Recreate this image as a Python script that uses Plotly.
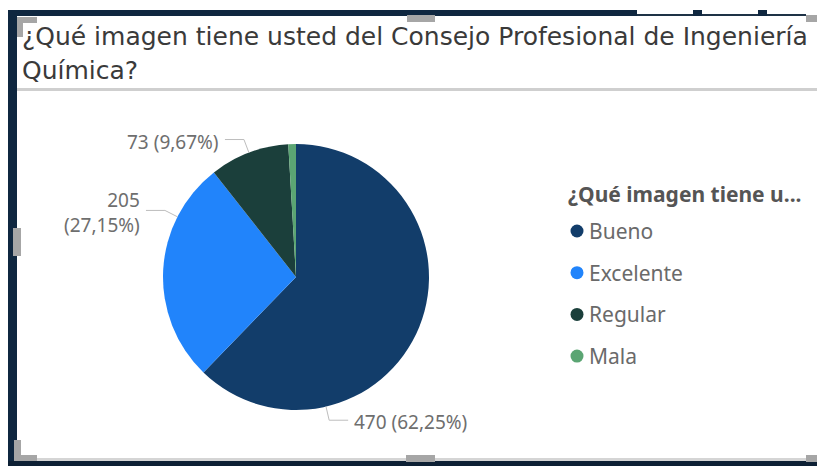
import math
import plotly.graph_objects as go

# ---------------- data ----------------
categories = ["Bueno", "Excelente", "Regular", "Mala"]
values = [470, 205, 73, 7]
colors = ["#123D6A", "#2184FB", "#1B3F3B", "#5BA573"]

title_lines = ["¿Qué imagen tiene usted del Consejo Profesional de Ingeniería", "Química?"]
legend_title = "¿Qué imagen tiene u..."

# ---------------- style / layout ----------------
W, H = 817, 466
pie_px_x = (163, 429)
pie_px_y = (144, 410)
label_frac = [0.745, 0.745, 0.5, None]      # where leader line touches each slice
label_wrap = [False, True, False, False]
LABEL_FONT = "Noto Sans"
TITLE_FONT = "DejaVu Sans"
LEGEND_FONT = "Noto Sans"


def px(x):
    return x / W


def py(y):
    return 1 - y / H


fig = go.Figure()
fig.add_trace(go.Pie(
    labels=categories, values=values, sort=False, direction="clockwise", rotation=0,
    marker=dict(colors=colors, line=dict(width=0)),
    textinfo="none", hoverinfo="label+value+percent", showlegend=False,
    domain=dict(x=[px(pie_px_x[0]), px(pie_px_x[1])], y=[py(pie_px_y[1]), py(pie_px_y[0])]),
))

shapes = []
annotations = []

# ---------- slice labels with leader lines (computed from values) ----------
cx = (pie_px_x[0] + pie_px_x[1]) / 2
cy = (pie_px_y[0] + pie_px_y[1]) / 2
r = (pie_px_x[1] - pie_px_x[0]) / 2
total = sum(values)
cum = 0.0
for cat, v, frac, wrap in zip(categories, values, label_frac, label_wrap):
    start = cum / total * 360
    span = v / total * 360
    cum += v
    if frac is None:
        continue
    a = math.radians(start + frac * span)
    ux, uy = math.sin(a), -math.cos(a)
    P = (cx + r * ux, cy + r * uy)
    E = (P[0] + 14 * ux, P[1] + 14 * uy)
    side = 1 if ux > 0 else -1
    Hh = (E[0] + 19 * side, E[1])
    path = "M {} {} L {} {} L {} {}".format(px(P[0]), py(P[1]), px(E[0]), py(E[1]), px(Hh[0]), py(Hh[1]))
    shapes.append(dict(type="path", xref="paper", yref="paper", path=path,
                       line=dict(color="#BDBDBD", width=1)))
    pct = "{:.2f}".format(100 * v / total).replace(".", ",") + "%"
    txt = f"{v}<br>({pct})" if wrap else f"{v} ({pct})"
    annotations.append(dict(
        xref="paper", yref="paper", x=px(Hh[0] + 4 * side), y=py(Hh[1] + 2),
        xanchor="left" if side > 0 else "right", yanchor="middle",
        align="left" if side > 0 else "right", text=txt, showarrow=False,
        font=dict(family=LABEL_FONT, size=19, color="#6E6E6E"),
    ))

# ---------- legend (manual, Power BI style) ----------
leg_cx = 577
leg_y0 = 231
leg_step = 41.7
annotations.append(dict(xref="paper", yref="paper", x=px(566), y=py(194), xanchor="left", yanchor="middle",
                        text=f"<b>{legend_title}</b>", showarrow=False,
                        font=dict(family=LEGEND_FONT, size=21, color="#555555")))
for i, (cat, col) in enumerate(zip(categories, colors)):
    yy = leg_y0 + i * leg_step
    shapes.append(dict(type="circle", xref="paper", yref="paper",
                       x0=px(leg_cx - 6.5), x1=px(leg_cx + 6.5), y0=py(yy + 6.5), y1=py(yy - 6.5),
                       fillcolor=col, line=dict(width=0)))
    annotations.append(dict(xref="paper", yref="paper", x=px(587), y=py(yy), xanchor="left", yanchor="middle",
                            text=cat, showarrow=False,
                            font=dict(family=LEGEND_FONT, size=21, color="#6A6A6A")))

# ---------- title ----------
for j, line in enumerate(title_lines):
    annotations.append(dict(xref="paper", yref="paper", x=px(20), y=py(36 + j * 34), xanchor="left",
                            yanchor="middle", text=line, showarrow=False,
                            font=dict(family=TITLE_FONT, size=25, color="#3A3A3A")))


# ---------- frame decorations ----------
def rect(x0, y0, x1, y1, color, layer="above"):
    shapes.append(dict(type="rect", xref="paper", yref="paper", x0=px(x0), x1=px(x1), y0=py(y1), y1=py(y0),
                       fillcolor=color, line=dict(width=0), layer=layer))


DARK = "#0F2740"
rect(8, 10, 17, 466, DARK)             # left strip
rect(8, 10, 637, 16, DARK)             # top band
rect(637, 14, 806, 16, "#1E3246")      # thin top line
rect(693, 10, 702, 16, DARK)
rect(758, 10, 767, 16, DARK)
rect(8, 461, 817, 466, "#0D2034")      # bottom strip
rect(17, 458, 817, 461, "#D5D5D5")     # bottom light edge
rect(17, 88, 817, 91, "#CFCFCF")       # title separator
# selection handles
HC = "#A6A6A6"
rect(17, 17, 37, 23, HC)
rect(17, 17, 23, 37, HC)
rect(14, 440, 21, 461, HC)
rect(14, 455, 37, 461, HC)
rect(407, 15, 435, 22, HC)
rect(406, 455, 435, 462, HC)
rect(13, 228, 21, 256, HC)
rect(806, 15, 817, 22, HC)
rect(806, 455, 817, 462, HC)

fig.update_layout(
    width=W, height=H, margin=dict(l=0, r=0, t=0, b=0),
    paper_bgcolor="white", plot_bgcolor="white",
    shapes=shapes, annotations=annotations, showlegend=False,
)

fig.write_html("out.html", config={"displayModeBar": False},
               post_script="document.body.style.margin='0';document.body.style.overflow='hidden';")
